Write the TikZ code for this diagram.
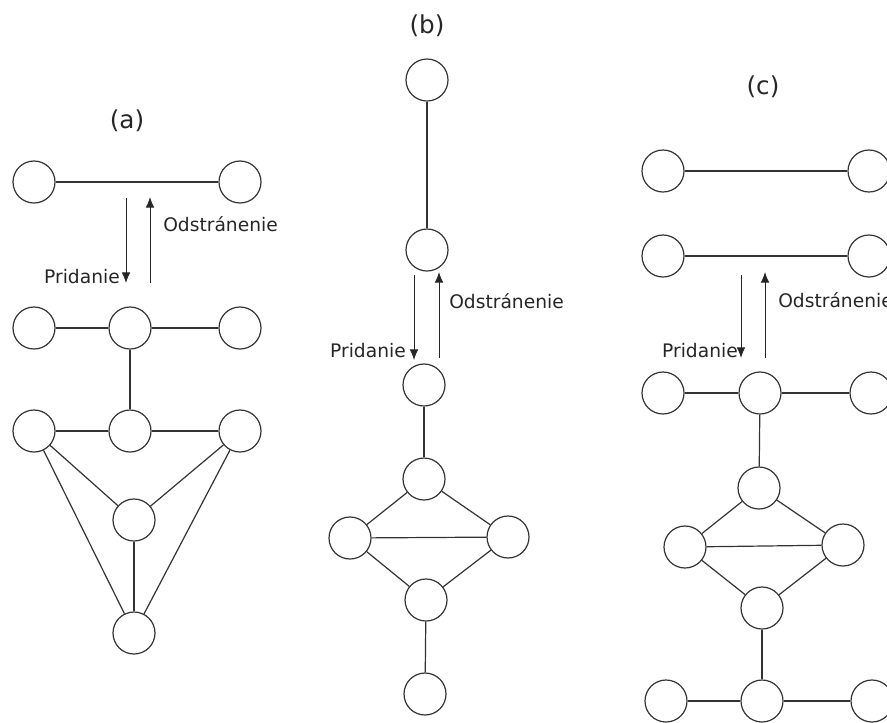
\documentclass[tikz,border=0pt]{standalone}
\usepackage{fontspec}
\setmainfont{DejaVu Sans}
\usetikzlibrary{arrows.meta}

\begin{document}
\begin{tikzpicture}[x=0.75pt,y=-0.75pt,
  vtx/.style={circle,draw=black!80,line width=0.9pt,minimum size=31.5pt,inner sep=0pt},
  edge/.style={draw=black!80,line width=0.9pt},
  move/.style={-{Latex[length=8pt,width=6.5pt]},draw=black!85,line width=0.7pt},
  lbl/.style={font=\fontsize{14}{16}\selectfont,text=black!85,inner sep=0pt},
  ttl/.style={font=\fontsize{18.5}{22}\selectfont,text=black!85,inner sep=0pt}]
\clip (0,0) rectangle (887,722);

\node[ttl] (ta) at (127,121) {(a)};
\node[vtx] (a1) at (34,182) {};
\node[vtx] (a2) at (240,182) {};
\node[vtx] (a3) at (34,328) {};
\node[vtx] (a4) at (130,328) {};
\node[vtx] (a5) at (240,328) {};
\node[vtx] (a6) at (34,431) {};
\node[vtx] (a7) at (130,431) {};
\node[vtx] (a8) at (240,431) {};
\node[vtx] (a9) at (134,520) {};
\node[vtx] (a10) at (134,633) {};
\draw[edge] (a1)--(a2);
\draw[edge] (a3)--(a4)--(a5);
\draw[edge] (a4)--(a7);
\draw[edge] (a6)--(a7)--(a8);
\draw[edge] (a6)--(a9) (a6)--(a10);
\draw[edge] (a8)--(a9) (a8)--(a10);
\draw[edge] (a9)--(a10);
\coordinate (pa1) at (126,198);
\coordinate (pa2) at (126,283);
\coordinate (oa1) at (150,283);
\coordinate (oa2) at (150,197);
\draw[move] (pa1)--(pa2);
\draw[move] (oa1)--(oa2);
\node[lbl,anchor=east] (pa) at (120,277) {Pridanie};
\node[lbl,anchor=west] (oa) at (163,224) {Odstránenie};

\node[ttl] (tb) at (427,26) {(b)};
\node[vtx] (b1) at (427,80) {};
\node[vtx] (b2) at (427,250) {};
\node[vtx] (b3) at (424,385) {};
\node[vtx] (b4) at (424,479) {};
\node[vtx] (b5) at (350,538) {};
\node[vtx] (b6) at (508,537) {};
\node[vtx] (b7) at (426,600) {};
\node[vtx] (b8) at (425,694) {};
\draw[edge] (b1)--(b2);
\draw[edge] (b3)--(b4);
\draw[edge] (b4)--(b5) (b4)--(b6);
\draw[edge] (b5)--(b6);
\draw[edge] (b5)--(b7) (b6)--(b7);
\draw[edge] (b7)--(b8);
\coordinate (pb1) at (414,275);
\coordinate (pb2) at (414,360);
\coordinate (ob1) at (439,358);
\coordinate (ob2) at (439,272);
\draw[move] (pb1)--(pb2);
\draw[move] (ob1)--(ob2);
\node[lbl,anchor=east] (pb) at (406,351) {Pridanie};
\node[lbl,anchor=west] (ob) at (449,301) {Odstránenie};

\node[ttl] (tc) at (763,87) {(c)};
\node[vtx] (c1) at (663,171) {};
\node[vtx] (c2) at (869,171) {};
\node[vtx] (c3) at (663,256) {};
\node[vtx] (c4) at (869,256) {};
\node[vtx] (c5) at (663,393) {};
\node[vtx] (c6) at (760,393) {};
\node[vtx] (c7) at (871,393) {};
\node[vtx] (c8) at (759,488) {};
\node[vtx] (c9) at (685,547) {};
\node[vtx] (c10) at (843,545) {};
\node[vtx] (c11) at (762,608) {};
\node[vtx] (c12) at (666,701) {};
\node[vtx] (c13) at (762,701) {};
\node[vtx] (c14) at (872,701) {};
\draw[edge] (c1)--(c2);
\draw[edge] (c3)--(c4);
\draw[edge] (c5)--(c6)--(c7);
\draw[edge] (c6)--(c8);
\draw[edge] (c8)--(c9) (c8)--(c10);
\draw[edge] (c9)--(c10);
\draw[edge] (c9)--(c11) (c10)--(c11);
\draw[edge] (c11)--(c13);
\draw[edge] (c12)--(c13)--(c14);
\coordinate (pc1) at (741,275);
\coordinate (pc2) at (741,358);
\coordinate (oc1) at (765,358);
\coordinate (oc2) at (765,272);
\draw[move] (pc1)--(pc2);
\draw[move] (oc1)--(oc2);
\node[lbl,anchor=east] (pc) at (738,351) {Pridanie};
\node[lbl,anchor=west] (oc) at (778,300) {Odstránenie};
\end{tikzpicture}
\end{document}
